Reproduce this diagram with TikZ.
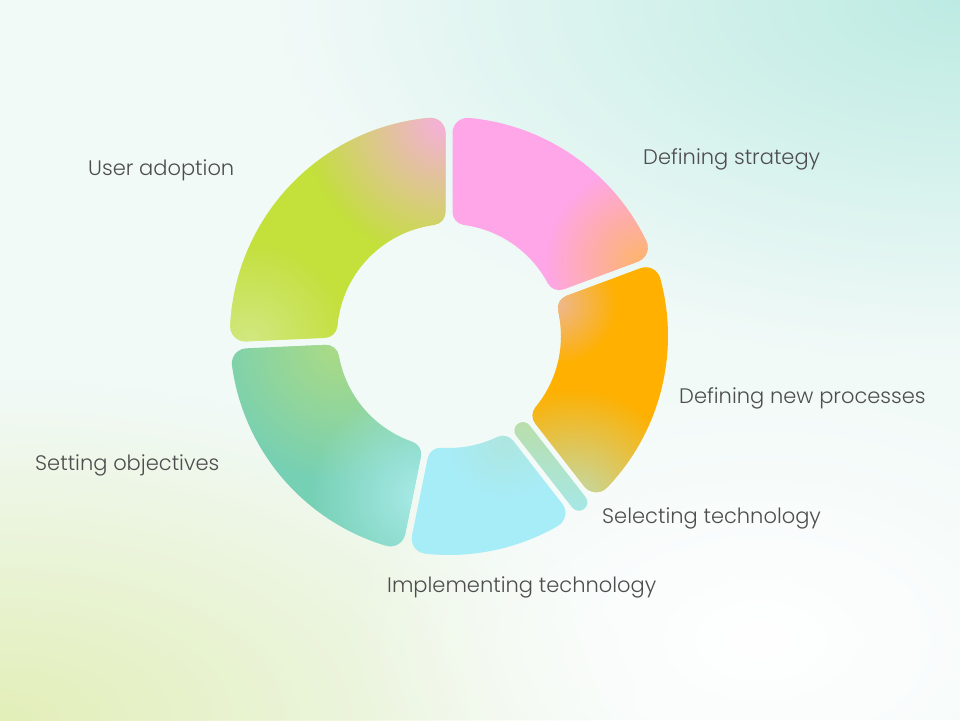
\documentclass[tikz,border=0pt]{standalone}
\usepackage{fontspec}
\setmainfont{Poppins Light}
\usetikzlibrary{fadings}
\tikzfading[name=softblob,inner color=transparent!0,outer color=transparent!100]
\def\Rout{219}
\def\Rin{112}
\def\Fout{15}
\def\Fin{13}
\newcommand{\ringseg}[4]{%
  \pgfmathsetmacro\aS{(\Rout-\Fout)*cos(asin((#2+\Fout)/(\Rout-\Fout)))}%
  \pgfmathsetmacro\bS{(\Rin+\Fin)*cos(asin((#2+\Fin)/(\Rin+\Fin)))}%
  \pgfmathsetmacro\aE{(\Rout-\Fout)*cos(asin((#4+\Fout)/(\Rout-\Fout)))}%
  \pgfmathsetmacro\bE{(\Rin+\Fin)*cos(asin((#4+\Fin)/(\Rin+\Fin)))}%
  \pgfmathsetmacro\pS{#1-asin((#2+\Fout)/(\Rout-\Fout))}%
  \pgfmathsetmacro\pE{#3+asin((#4+\Fout)/(\Rout-\Fout))}%
  \pgfmathsetmacro\qS{#1-asin((#2+\Fin)/(\Rin+\Fin))}%
  \pgfmathsetmacro\qE{#3+asin((#4+\Fin)/(\Rin+\Fin))}%
  \clip ({\bS*cos(#1)+#2*sin(#1)},{\bS*sin(#1)-#2*cos(#1)})
    -- ({\aS*cos(#1)+#2*sin(#1)},{\aS*sin(#1)-#2*cos(#1)})
    arc[start angle=#1+90,end angle=\pS,radius=\Fout]
    arc[start angle=\pS,end angle=\pE,radius=\Rout]
    arc[start angle=\pE,end angle=#3-90,radius=\Fout]
    -- ({\bE*cos(#3)-#4*sin(#3)},{\bE*sin(#3)+#4*cos(#3)})
    arc[start angle=#3-90,end angle=\qE-180,radius=\Fin]
    arc[start angle=\qE,end angle=\qS,radius=\Rin]
    arc[start angle=\qS+180,end angle=#1+90,radius=\Fin]
    -- cycle;}
\begin{document}
\begin{tikzpicture}[x=1pt,y=1pt,
  lbl/.style={anchor=base west,inner sep=0pt,text=labelgray,font=\fontsize{21}{25}\selectfont},
  blob/.style={path fading=softblob}]
  \definecolor{bgbase}{HTML}{F2FAF8}
  \definecolor{bgteal}{HTML}{BDEBE3}
  \definecolor{bgyellow}{HTML}{E3EFB9}
  \definecolor{adoptlime}{HTML}{C3E03B}
  \definecolor{adoptlight}{HTML}{D2E882}
  \definecolor{adoptpink}{HTML}{F7AFDD}
  \definecolor{strategypink}{HTML}{FFA6E8}
  \definecolor{strategypeach}{HTML}{FDB56C}
  \definecolor{processorange}{HTML}{FFB000}
  \definecolor{processtan}{HTML}{EEB890}
  \definecolor{processgreen}{HTML}{BEDDB4}
  \definecolor{selectgreen}{HTML}{B9DEAA}
  \definecolor{selectcyan}{HTML}{A6E8E8}
  \definecolor{implementcyan}{HTML}{A7EDF8}
  \definecolor{implementsea}{HTML}{AEE6E0}
  \definecolor{objectteal}{HTML}{76D0B4}
  \definecolor{objectlime}{HTML}{ACDB84}
  \definecolor{objectcyan}{HTML}{A8EAE8}
  \definecolor{labelgray}{HTML}{4D4D4D}
  \useasboundingbox (0,0) rectangle (960,720);
  \begin{scope}
    \clip (0,0) rectangle (960,720);
    \fill[bgbase] (0,0) rectangle (960,720);
    \fill[bgteal,blob] (960,720) ellipse (680 and 360);
    \fill[bgyellow,blob] (0,0) ellipse (640 and 340);
    \fill[white,blob] (760,80) ellipse (420 and 260);
  \end{scope}
  \begin{scope}[shift={(449,384)}]
    \begin{scope}
      \ringseg{182.5}{3.5}{90}{3.5}
      \fill[adoptlime] (-230,-230) rectangle (230,230);
      \fill[adoptlight,blob] (-200,-5) circle (100);
      \fill[adoptpink,blob] (-5,215) circle (140);
    \end{scope}
    \begin{scope}
      \ringseg{90}{3.5}{20.5}{3.5}
      \fill[strategypink] (-230,-230) rectangle (230,230);
      \fill[strategypeach,blob] (191,74) circle (95);
    \end{scope}
    \begin{scope}
      \ringseg{20.5}{3.5}{-52}{14}
      \fill[processorange] (-230,-230) rectangle (230,230);
      \fill[processtan,blob] (108,32) circle (60);
      \fill[processgreen,blob] (125,-168) circle (115);
    \end{scope}
    \begin{scope}
      \ringseg{-52}{14}{-101.5}{3.5}
      \fill[implementcyan] (-230,-230) rectangle (230,230);
      \fill[implementsea,blob] (56,-104) circle (60);
    \end{scope}
    \begin{scope}
      \ringseg{-101.5}{3.5}{-177.5}{3.5}
      \fill[objectteal] (-230,-230) rectangle (230,230);
      \fill[objectlime,blob] (-110,-10) circle (135);
      \fill[objectcyan,blob] (-30,-160) circle (110);
    \end{scope}
    \shade[top color=selectgreen,bottom color=selectcyan]
      ({120*cos(-52)+8.5*sin(-52)},{120*sin(-52)-8.5*cos(-52)})
      -- ({211*cos(-52)+8.5*sin(-52)},{211*sin(-52)-8.5*cos(-52)})
      arc[start angle=-142,end angle=38,radius=8.5]
      -- ({120*cos(-52)-8.5*sin(-52)},{120*sin(-52)+8.5*cos(-52)})
      arc[start angle=38,end angle=218,radius=8.5] -- cycle;
  \end{scope}
  \node[lbl] (adoption) at (88,544) {User adoption};
  \node[lbl] (strategy) at (643,555) {Defining strategy};
  \node[lbl] (processes) at (679,316) {Defining new processes};
  \node[lbl] (selecting) at (602,196) {Selecting technology};
  \node[lbl] (implementing) at (387,128) {Implementing technology};
  \node[lbl] (objectives) at (35,249) {Setting objectives};
\end{tikzpicture}
\end{document}
